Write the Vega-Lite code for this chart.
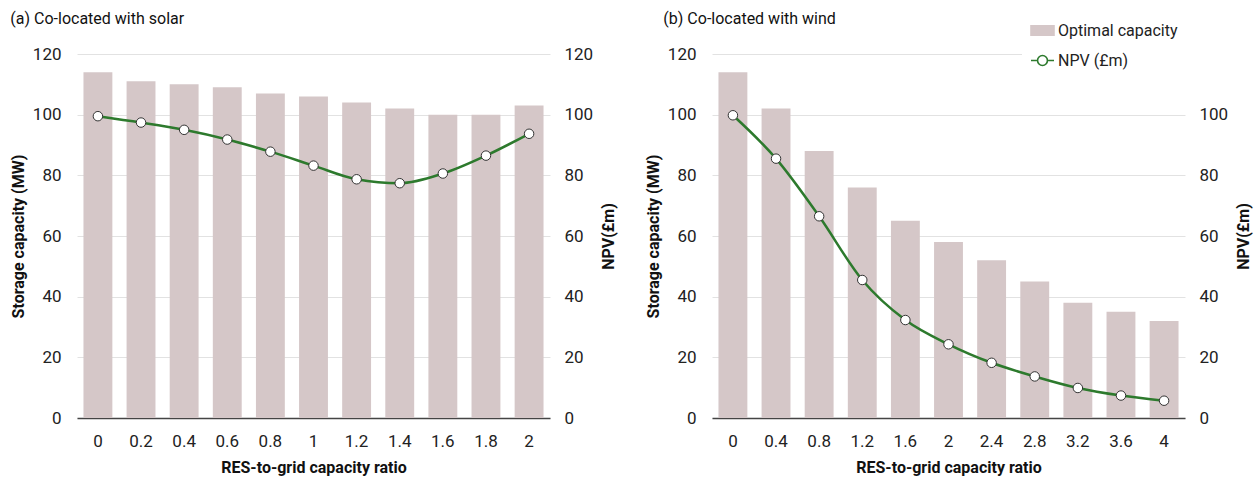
{
  "$schema": "https://vega.github.io/schema/vega-lite/v6.json",
  "autosize": {"type": "pad"},
  "padding": {"left": 10, "top": 10, "right": 4, "bottom": 2},
  "background": "white",
  "datasets": {
    "solar": [
      {"ratio": "0", "capacity": 114, "npv": 99.5},
      {"ratio": "0.2", "capacity": 111, "npv": 97.4},
      {"ratio": "0.4", "capacity": 110, "npv": 95},
      {"ratio": "0.6", "capacity": 109, "npv": 91.8},
      {"ratio": "0.8", "capacity": 107, "npv": 87.8},
      {"ratio": "1", "capacity": 106, "npv": 83.2},
      {"ratio": "1.2", "capacity": 104, "npv": 78.7},
      {"ratio": "1.4", "capacity": 102, "npv": 77.4},
      {"ratio": "1.6", "capacity": 100, "npv": 80.6},
      {"ratio": "1.8", "capacity": 100, "npv": 86.5},
      {"ratio": "2", "capacity": 103, "npv": 93.7}
    ],
    "wind": [
      {"ratio": "0", "capacity": 114, "npv": 99.8},
      {"ratio": "0.4", "capacity": 102, "npv": 85.5},
      {"ratio": "0.8", "capacity": 88, "npv": 66.5},
      {"ratio": "1.2", "capacity": 76, "npv": 45.5},
      {"ratio": "1.6", "capacity": 65, "npv": 32.3},
      {"ratio": "2", "capacity": 58, "npv": 24.3},
      {"ratio": "2.4", "capacity": 52, "npv": 18.2},
      {"ratio": "2.8", "capacity": 45, "npv": 13.7},
      {"ratio": "3.2", "capacity": 38, "npv": 9.9},
      {"ratio": "3.6", "capacity": 35, "npv": 7.4},
      {"ratio": "4", "capacity": 32, "npv": 5.7}
    ]
  },
  "hconcat": [
    {
      "width": 473,
      "height": 364,
      "title": {"text": "(a) Co-located with solar", "anchor": "start", "frame": "bounds", "fontSize": 16, "fontWeight": "normal", "offset": 18},
      "data": {"name": "solar"},
      "encoding": {
        "x": {"field": "ratio", "type": "ordinal", "sort": null,
          "scale": {"paddingInner": 0.33, "paddingOuter": 0.15},
          "axis": {"title": "RES-to-grid capacity ratio", "labelAngle": 0, "domain": true, "domainColor": "#444", "domainWidth": 1.5, "grid": false, "labelPadding": 15, "titlePadding": 10}}
      },
      "layer": [
        {
          "mark": {"type": "bar", "color": "#d5c7c8"},
          "encoding": {
            "y": {"field": "capacity", "type": "quantitative", "scale": {"domain": [0, 120]},
              "axis": {"title": "Storage capacity (MW)", "values": [0, 20, 40, 60, 80, 100, 120], "grid": true, "labelPadding": 16, "titlePadding": 6}}
          }
        },
        {
          "mark": {"type": "line", "color": "#2d7a2d", "strokeWidth": 2.5, "interpolate": "monotone",
            "point": {"filled": true, "fill": "white", "stroke": "#333", "strokeWidth": 1, "size": 90}},
          "encoding": {
            "y": {"field": "npv", "type": "quantitative", "scale": {"domain": [0, 120]},
              "axis": {"title": "NPV(£m)", "orient": "right", "values": [0, 20, 40, 60, 80, 100, 120], "grid": false, "labelPadding": 14, "titlePadding": 24, "titleAngle": 270}}
          }
        }
      ],
      "resolve": {"scale": {"y": "independent"}}
    },
    {
      "width": 473,
      "height": 364,
      "title": {"text": "(b) Co-located with wind", "anchor": "start", "frame": "bounds", "fontSize": 16, "fontWeight": "normal", "offset": 18, "dx": 18},
      "data": {"name": "wind"},
      "encoding": {
        "x": {"field": "ratio", "type": "ordinal", "sort": null,
          "scale": {"paddingInner": 0.33, "paddingOuter": 0.15},
          "axis": {"title": "RES-to-grid capacity ratio", "labelAngle": 0, "domain": true, "domainColor": "#444", "domainWidth": 1.5, "grid": false, "labelPadding": 15, "titlePadding": 10}}
      },
      "layer": [
        {
          "mark": {"type": "bar"},
          "encoding": {
            "y": {"field": "capacity", "type": "quantitative", "scale": {"domain": [0, 120]},
              "axis": {"title": "Storage capacity (MW)", "values": [0, 20, 40, 60, 80, 100, 120], "grid": true, "labelPadding": 16, "titlePadding": 6}},
            "color": {"datum": "Optimal capacity", "type": "nominal",
              "scale": {"domain": ["Optimal capacity", "NPV (£m)"], "range": ["#d5c7c8", "#ffffff"]},
              "legend": {"title": null, "orient": "none", "legendX": 945, "legendY": -44,
                "fillColor": "white", "padding": 8, "labelFontSize": 16, "labelColor": "#222",
                "symbolSize": 529, "rowPadding": 9, "labelOffset": 3,
                "encode": {"symbols": {"update": {
                  "shape": {"signal": "datum.value === 'NPV (£m)' ? 'M-1,0L-0.43,0M0.43,0L1,0M0.43,0A0.43,0.43,0,1,1,-0.43,0A0.43,0.43,0,1,1,0.43,0' : 'M-1,-0.4L1,-0.4L1,0.4L-1,0.4Z'"},
                  "fill": {"signal": "datum.value === 'NPV (£m)' ? '#ffffff' : '#d5c7c8'"},
                  "stroke": {"signal": "datum.value === 'NPV (£m)' ? '#2d7a2d' : '#d5c7c8'"},
                  "strokeWidth": {"value": 1.6},
                  "opacity": {"value": 1}
                }}}}
            }
          }
        },
        {
          "mark": {"type": "line", "color": "#2d7a2d", "strokeWidth": 2.5, "interpolate": "monotone",
            "point": {"filled": true, "fill": "white", "stroke": "#333", "strokeWidth": 1, "size": 90}},
          "encoding": {
            "y": {"field": "npv", "type": "quantitative", "scale": {"domain": [0, 120]},
              "axis": {"title": "NPV(£m)", "orient": "right", "values": [0, 20, 40, 60, 80, 100], "grid": false, "labelPadding": 14, "titlePadding": 24, "titleAngle": 270}}
          }
        }
      ],
      "resolve": {"scale": {"y": "independent"}}
    }
  ],
  "spacing": 28,
  "config": {
    "view": {"stroke": null},
    "font": "Roboto",
    "title": {"color": "#111"},
    "axis": {"labelFontSize": 17, "titleFontSize": 16, "titleFontWeight": "bold", "labelColor": "#222", "titleColor": "#111", "ticks": false, "domain": false, "gridColor": "#e2e2e2", "labelFont": "Roboto", "titleFont": "Roboto"}
  }
}
